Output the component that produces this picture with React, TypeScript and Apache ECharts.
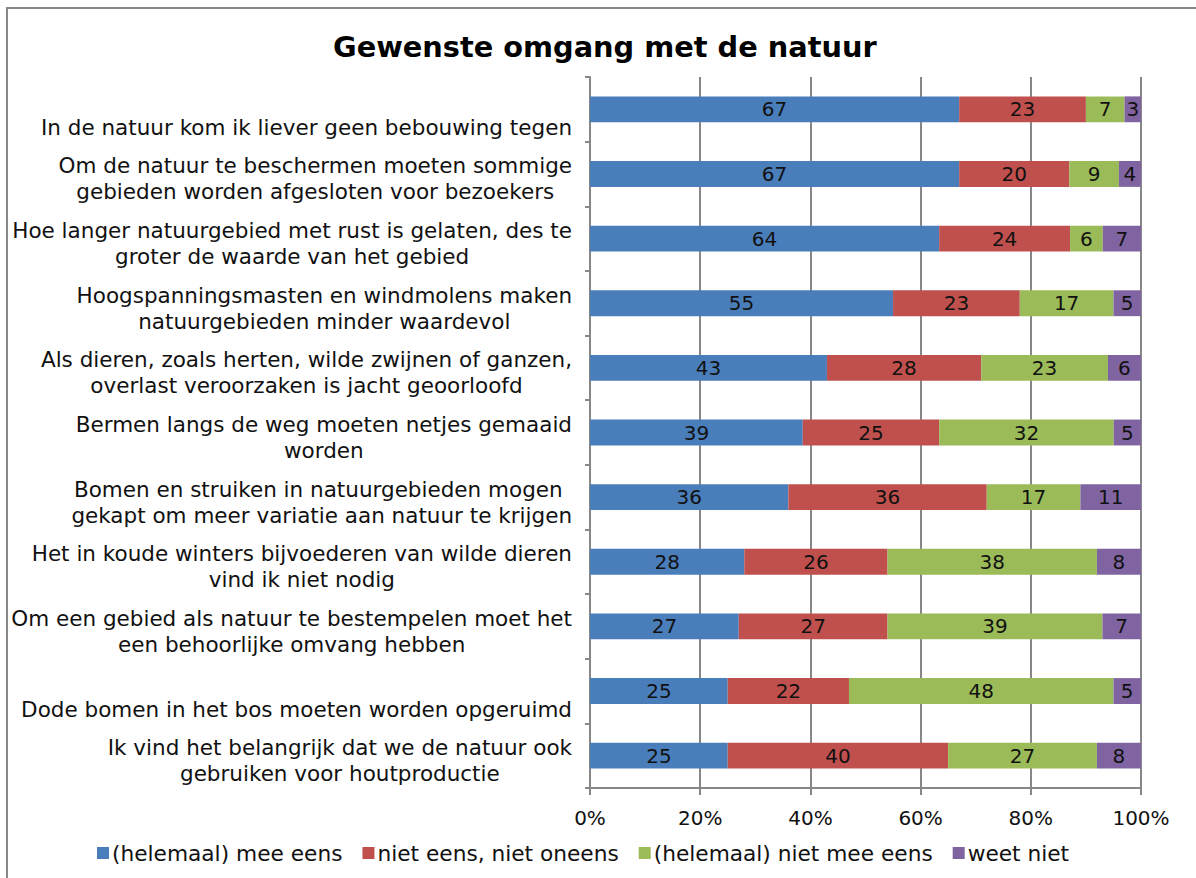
import React, { useEffect, useRef } from 'react';
import * as echarts from 'echarts';

const categories = [
  '\nIn de natuur kom ik liever geen bebouwing tegen',
  'Om de natuur te beschermen moeten sommige\ngebieden worden afgesloten voor bezoekers',
  'Hoe langer natuurgebied met rust is gelaten, des te\ngroter de waarde van het gebied',
  'Hoogspanningsmasten en windmolens maken\nnatuurgebieden minder waardevol',
  'Als dieren, zoals herten, wilde zwijnen of ganzen,\noverlast veroorzaken is jacht geoorloofd',
  'Bermen langs de weg moeten netjes gemaaid\nworden',
  'Bomen en struiken in natuurgebieden mogen \ngekapt om meer variatie aan natuur te krijgen',
  'Het in koude winters bijvoederen van wilde dieren\nvind ik niet nodig',
  'Om een gebied als natuur te bestempelen moet het\neen behoorlijke omvang hebben',
  '\nDode bomen in het bos moeten worden opgeruimd',
  'Ik vind het belangrijk dat we de natuur ook\ngebruiken voor houtproductie',
];

const seriesNames = [
  '(helemaal) mee eens',
  'niet eens, niet oneens',
  '(helemaal) niet mee eens',
  'weet niet',
];

const meeEens = [67, 67, 64, 55, 43, 39, 36, 28, 27, 25, 25];
const nietEensNietOneens = [23, 20, 24, 23, 28, 25, 36, 26, 27, 22, 40];
const nietMeeEens = [7, 9, 6, 17, 23, 32, 17, 38, 39, 48, 27];
const weetNiet = [3, 4, 7, 5, 6, 5, 11, 8, 7, 5, 8];

const xTickValues = [0, 20, 40, 60, 80, 100];

const colors = ['#4A7EBB', '#C0504D', '#9BBB59', '#8064A2'];

const FONT = "'DejaVu Sans', Verdana, sans-serif";

export default function App() {
  const ref = useRef<HTMLDivElement>(null);

  useEffect(() => {
    if (!ref.current) return;
    const chart = echarts.init(ref.current, null, { renderer: 'svg' });
    const raw = [meeEens, nietEensNietOneens, nietMeeEens, weetNiet];
    const totals = categories.map((_, i) => raw.reduce((s, arr) => s + arr[i], 0));

    const series = raw.map((arr, si) => ({
      name: seriesNames[si],
      type: 'bar',
      stack: 'total',
      barCategoryGap: '60%',
      itemStyle: { color: colors[si] },
      label: {
        show: true,
        position: 'inside',
        color: '#111',
        fontSize: 20,
        fontFamily: FONT,
        formatter: (p: any) => String(p.data.raw),
      },
      data: arr.map((v, i) => ({ value: (v / totals[i]) * 100, raw: v })),
    }));

    chart.setOption({
      animation: false,
      textStyle: { fontFamily: FONT },
      color: colors,
      title: {
        text: 'Gewenste omgang met de natuur',
        left: 328,
        top: 27,
        textStyle: { fontSize: 28.8, fontWeight: 'bold', color: '#000', fontFamily: FONT },
      },
      graphic: [
        {
          type: 'rect',
          shape: { x: 7, y: 8, width: 1300, height: 1000 },
          style: { fill: 'none', stroke: '#888', lineWidth: 2 },
          silent: true,
        },
      ],
      legend: {
        data: seriesNames,
        left: 92,
        top: 837,
        icon: 'rect',
        itemWidth: 12,
        itemHeight: 12,
        itemGap: 20,
        textStyle: { fontSize: 21.7, color: '#111', fontFamily: FONT, padding: [0, 0, 0, -2] },
      },
      grid: { left: 590, right: 55, top: 77, bottom: 90, containLabel: false },
      xAxis: {
        type: 'value',
        min: xTickValues[0],
        max: xTickValues[xTickValues.length - 1],
        interval: xTickValues[1] - xTickValues[0],
        axisLine: { show: true, lineStyle: { color: '#878787', width: 2 } },
        axisTick: { show: true, length: 7, lineStyle: { color: '#878787', width: 2 } },
        splitLine: { show: true, lineStyle: { color: '#878787', width: 2 } },
        axisLabel: { formatter: '{value}%', fontSize: 20, color: '#111', margin: 20, fontFamily: FONT },
      },
      yAxis: {
        type: 'category',
        inverse: true,
        data: categories,
        axisLine: { show: true, lineStyle: { color: '#878787', width: 2 } },
        axisTick: { show: true, length: 5, lineStyle: { color: '#878787', width: 2 } },
        axisLabel: {
          margin: 18,
          color: '#111',
          fontSize: 21.5,
          lineHeight: 26,
          padding: [10, 0, 0, 0],
          fontFamily: FONT,
          formatter: (v: string) =>
            v
              .split('\n')
              .map((l) => `{c|${l === '' ? ' ' : l}}`)
              .join('\n'),
          rich: {
            c: { align: 'center', fontSize: 21.5, lineHeight: 26, color: '#111', fontFamily: FONT },
          },
        },
      },
      series,
    });

    return () => chart.dispose();
  }, []);

  return (
    <div
      ref={ref}
      style={{ position: 'absolute', left: 0, top: 0, width: 1196, height: 878, background: '#fff' }}
    />
  );
}
